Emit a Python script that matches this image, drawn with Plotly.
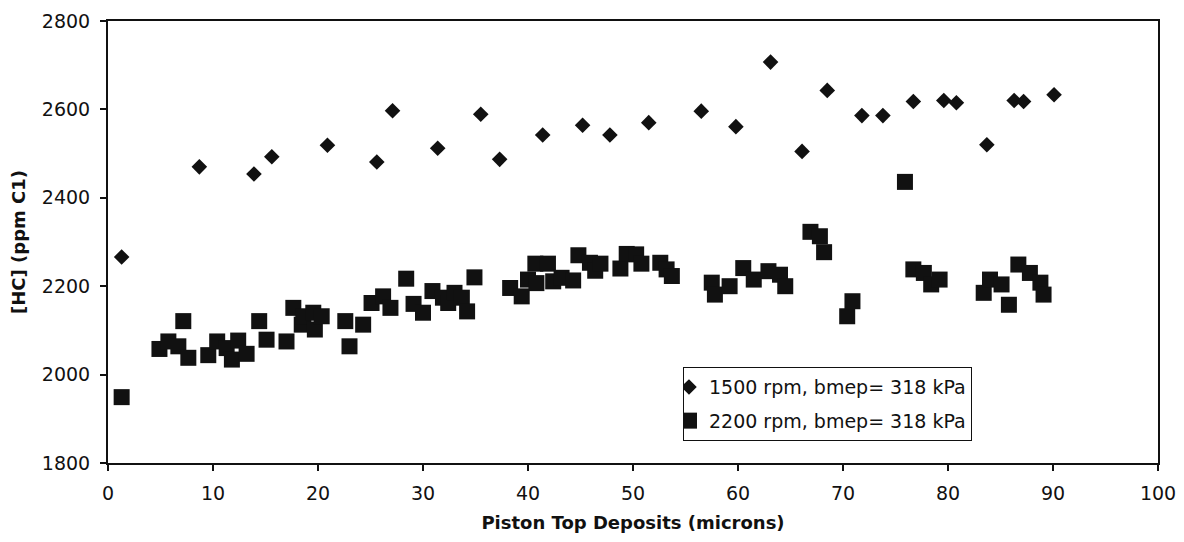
import plotly.graph_objects as go

# Hydrocarbon emissions vs piston top deposit thickness
deposits_1500 = [1.3, 8.7, 13.9, 15.6, 20.9, 25.6, 27.1, 31.4, 35.5, 37.3, 41.4, 45.2, 47.8, 51.5,
                 56.5, 59.8, 63.1, 66.1, 68.5, 71.8, 73.8, 76.7, 79.6, 80.8, 83.7, 86.3, 87.2, 90.1]
hc_1500 = [2266, 2470, 2454, 2493, 2519, 2481, 2597, 2512, 2589, 2487, 2542, 2564, 2542, 2570,
           2596, 2561, 2707, 2505, 2643, 2586, 2586, 2618, 2620, 2615, 2520, 2620, 2618, 2633]

deposits_2200 = [1.3, 4.9, 5.75, 6.7, 7.17, 7.65, 9.55, 10.4, 11.3, 11.8, 12.4, 13.2, 14.4, 15.1,
                 17.0, 17.65, 18.45, 18.6, 19.55, 19.7, 20.35, 22.6, 23.0, 24.3, 25.1, 26.2, 26.9,
                 28.4, 29.1, 30.0, 30.9, 31.9, 32.4, 33.0, 33.7, 34.2, 34.9, 38.3, 39.4, 40.0,
                 40.7, 40.8, 41.9, 42.4, 43.2, 44.3, 44.8, 45.9, 46.4, 46.9, 48.8, 49.4, 50.3,
                 50.8, 52.6, 53.2, 53.7, 57.5, 57.8, 59.2, 60.5, 61.5, 62.9, 64.0, 64.5, 66.9,
                 67.8, 68.2, 70.4, 70.9, 75.9, 76.7, 77.7, 78.4, 79.2, 83.4, 84.0, 85.1, 85.8,
                 86.7, 87.8, 88.8, 89.1]
hc_2200 = [1949, 2058, 2075, 2064, 2121, 2038, 2044, 2075, 2060, 2034, 2077, 2047, 2121, 2079,
           2075, 2151, 2113, 2132, 2140, 2102, 2132, 2121, 2064, 2113, 2162, 2177, 2151,
           2217, 2160, 2140, 2189, 2174, 2162, 2185, 2174, 2143, 2220, 2196, 2177, 2215,
           2251, 2207, 2251, 2211, 2219, 2213, 2270, 2253, 2235, 2251, 2240, 2273, 2272,
           2251, 2253, 2238, 2223, 2208, 2181, 2200, 2241, 2215, 2234, 2226, 2200, 2323,
           2313, 2277, 2132, 2166, 2436, 2238, 2230, 2204, 2215, 2185, 2215, 2204, 2158,
           2249, 2230, 2208, 2181]

x_ticks = [0, 10, 20, 30, 40, 50, 60, 70, 80, 90, 100]
y_ticks = [1800, 2000, 2200, 2400, 2600, 2800]

FONT = "DejaVu Sans"
INK = "#111111"

fig = go.Figure()
fig.add_trace(go.Scatter(
    x=deposits_1500, y=hc_1500, mode="markers",
    name="1500 rpm, bmep= 318 kPa", legendgroup="a",
    marker=dict(symbol="diamond", size=12, color=INK, line=dict(width=0)),
))
fig.add_trace(go.Scatter(
    x=deposits_2200, y=hc_2200, mode="markers",
    name="2200 rpm, bmep= 318 kPa", legendgroup="b",
    marker=dict(symbol="square", size=16, color=INK, line=dict(width=0)),
))

axis_common = dict(
    showline=True, linecolor=INK, linewidth=2, mirror=True,
    ticks="outside", ticklen=6, tickwidth=1.5, tickcolor=INK,
    showgrid=False, zeroline=False,
    tickfont=dict(family=FONT, size=19, color=INK),
)

fig.update_xaxes(
    range=[0, 100], tickvals=x_ticks, ticktext=[str(v) for v in x_ticks],
    ticklabelstandoff=6,
    title=dict(text="<b>Piston Top Deposits (microns)</b>",
               font=dict(family=FONT, size=18, color=INK), standoff=14),
    **axis_common,
)
fig.update_yaxes(
    range=[1800, 2800], tickvals=y_ticks, ticktext=[str(v) for v in y_ticks],
    ticklabelstandoff=6,
    title=dict(text="<b>[HC] (ppm C1)</b>",
               font=dict(family=FONT, size=18, color=INK), standoff=12),
    **axis_common,
)

fig.update_layout(
    width=1184, height=542,
    margin=dict(l=108, r=26, t=21, b=79, autoexpand=False),
    paper_bgcolor="white", plot_bgcolor="white",
    showlegend=True,
    legend=dict(
        x=0.5476, y=0.217, xanchor="left", yanchor="top",
        bgcolor="white", bordercolor=INK, borderwidth=1,
        font=dict(family=FONT, size=19, color=INK),
        itemsizing="trace", indentation=-15, tracegroupgap=6,
    ),
    font=dict(family=FONT, color=INK),
)

fig.write_html("out.html")
